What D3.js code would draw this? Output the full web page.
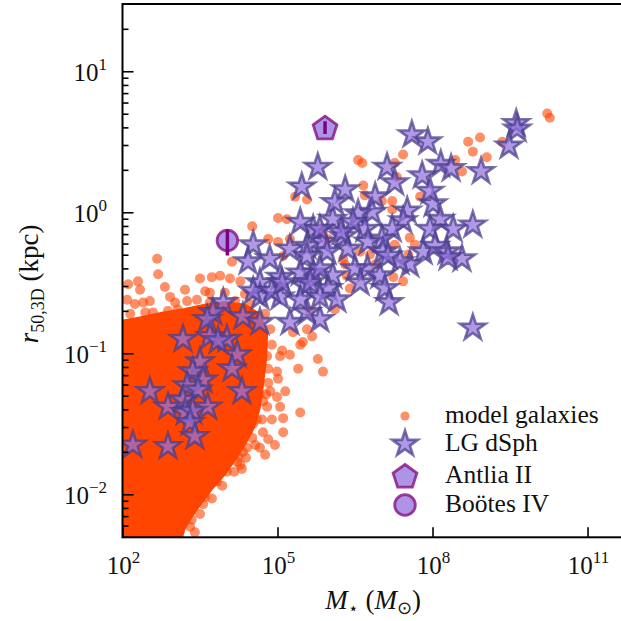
<!DOCTYPE html>
<html><head><meta charset="utf-8">
<script src="https://cdn.jsdelivr.net/npm/d3@7"></script>
<style>body{margin:0;background:#fff} text{font-family:"Liberation Serif","Times New Roman",serif;fill:#111}</style>
</head><body><svg id="c" width="621" height="621"></svg>
<script>
// [log10 M*, log10 r50] for individual model galaxies outside the dense core
const modelGalaxies = [
[10.22,0.70],[10.27,0.67],[8.69,0.50],[8.92,0.53],[8.78,0.43],[9.05,0.39],[9.35,0.50],[7.43,0.41],[7.27,0.35],
[8.44,0.37],[8.57,0.29],[7.76,0.11],[7.22,0.08],[7.22,0.02],[7.56,-0.18],[7.53,-0.30],[7.24,-0.46],[7.43,-0.49],
[6.56,0.37],[6.64,0.35],[6.66,0.19],[6.69,0.12],[7.31,0.25],[7.02,0.08],[6.79,-0.30],[5.57,0.09],[5.34,0.11],
[5.88,-0.14],[6.27,-0.33],[6.34,-0.45],[5.63,-0.70],[5.01,-0.04],[5.18,-0.05],[4.51,-0.10],[4.82,-0.19],[5.01,-0.21],
[4.12,-0.35],[3.73,-0.46],[3.89,-0.45],[3.50,-0.47],[4.08,-0.47],[4.28,-0.49],[5.98,-0.19],[5.11,-0.31],[6.60,-0.28],
[2.67,-0.33],[2.69,-0.44],[2.30,-0.49],[2.92,-0.60],[2.24,-0.65],[2.40,-0.64],[2.53,-0.63],[2.09,-0.62],[2.59,-0.71],
[3.02,-0.64],[3.25,-0.63],[3.44,-0.62],[3.31,-0.71],[2.78,-0.74],[5.30,-0.85],[5.57,-0.83],[3.69,-0.57],
[5.44,-0.94],[5.67,-0.88],[5.24,-1.01],[5.05,-1.02],[5.78,-1.04],[5.88,-1.13],[4.99,-1.13],[4.82,-1.21],[5.15,-1.27],
[4.99,-1.31],[4.80,-1.38],[5.44,-1.42],[4.89,-1.47],[5.11,-1.46],[4.53,-1.50],[4.72,-1.56],[5.11,-1.56],[4.51,-1.60],
[4.82,-1.61],[4.95,-1.65],[4.66,-1.67],[4.76,-1.72],[4.41,-1.67],[4.24,-1.73],[4.28,-1.79],[4.02,-1.84],[4.31,-1.82],
[3.83,-1.91],[3.60,-2.02],[3.56,-2.07],[3.34,-2.18],[3.31,-2.23],[3.11,-2.26],[5.49,-0.92],[5.40,-1.11],[4.86,-1.27],
[4.72,-1.34],[4.60,-1.47],[4.33,-1.70],[4.22,-1.77],[4.80,-1.02],[5.01,-1.18],[5.09,-0.98],[5.05,-1.38],
[4.70,-0.90],[4.62,-1.11],[4.66,-1.29],[4.56,-1.41],[4.43,-1.55],[4.12,-1.70],[3.93,-1.79],[3.73,-1.89],[3.50,-2.00],
[3.36,-2.09],[3.21,-2.18],[3.04,-2.29],[2.15,-0.72],[2.44,-0.71],[2.88,-0.70],[3.07,-0.69],[3.69,-0.64],[4.18,-0.63],
[4.47,-0.65],[4.76,-0.72],[5.24,-0.19],[6.31,-0.37],[6.89,-0.37],[7.66,-0.23],[7.27,-0.23],[6.11,-0.69],[6.40,-0.54],
[2.34,-0.55],[2.82,-0.53],[3.21,-0.55],[2.11,-0.51],[3.60,-0.56],[3.98,-0.57],[4.37,-0.58],[4.86,-0.83],[4.89,-0.94],
[4.82,-1.11],[4.78,-1.29],[4.70,-1.47],[4.57,-1.65],[4.39,-1.74],[4.16,-1.84],[3.93,-1.94],[3.73,-2.03],[3.50,-2.14],
[3.40,-2.27]
];
// outline of the dense, fully overlapping core of model galaxies [log10 M*, log10 r50]
const modelCore = [
[1.90,-0.79],[2.34,-0.76],[2.73,-0.73],[3.21,-0.70],[3.60,-0.67],[3.98,-0.65],[4.37,-0.67],[4.62,-0.73],[4.76,-0.86],
[4.74,-1.04],[4.68,-1.22],[4.62,-1.38],[4.51,-1.52],[4.35,-1.63],[4.16,-1.74],[3.95,-1.85],[3.71,-1.95],[3.50,-2.05],
[3.31,-2.15],[3.15,-2.25],[3.08,-2.36],[1.90,-2.36]
];
// Local Group dwarf spheroidals [log10 M*, log10 r50]
const lgDsph = [
[9.62,0.63],[9.64,0.59],[9.48,0.47],[7.60,0.55],[7.91,0.50],[8.16,0.34],[8.36,0.31],[8.94,0.29],[7.12,0.32],[7.27,0.21],
[7.80,0.26],[8.01,0.06],[7.95,0.15],[8.15,-0.05],[8.40,-0.12],[8.78,-0.09],[7.95,-0.12],[7.51,0.01],[7.43,-0.06],[7.22,-0.12],
[7.02,-0.19],[6.89,0.11],[6.83,0.00],[6.56,-0.01],[6.69,-0.12],[6.46,-0.07],[6.27,-0.17],[6.07,-0.05],[5.69,-0.12],[5.44,-0.07],
[5.57,-0.24],[5.88,-0.21],[6.36,-0.26],[6.75,-0.21],[7.04,-0.28],[7.82,-0.28],[8.05,-0.24],[8.28,-0.28],[8.57,-0.33],[8.30,-0.32],
[7.56,-0.37],[7.37,-0.35],[6.74,-0.40],[6.50,-0.40],[6.98,-0.45],[6.07,-0.45],[5.69,-0.43],[5.53,-0.52],[5.98,-0.54],[7.08,-0.54],
[7.16,-0.64],[6.15,-0.62],[5.82,-0.76],[5.57,-0.71],[8.78,-0.82],[7.14,-0.31],[5.78,0.32],[5.47,0.18],[6.31,0.16],[6.11,0.07],
[5.82,-0.12],[6.23,-0.14],[4.53,-0.23],[4.43,-0.35],[4.85,-0.33],[5.24,-0.26],[5.57,-0.31],[5.96,-0.28],[5.05,-0.46],[5.44,-0.43],
[5.82,-0.40],[4.66,-0.50],[4.66,-0.60],[5.05,-0.60],[5.63,-0.50],[6.60,-0.50],[5.44,-0.62],[5.82,-0.60],[3.95,-0.64],[3.75,-0.71],
[4.33,-0.74],[4.66,-0.78],[5.24,-0.78],[3.64,-0.76],[3.17,-0.90],[4.02,-0.90],[3.69,-0.88],[4.53,-0.56],[4.89,-0.56],[5.09,-0.50],
[3.85,-0.91],[4.22,-1.01],[4.12,-1.11],[3.50,-1.06],[3.36,-1.13],[3.56,-1.19],[3.25,-1.23],[3.46,-1.26],[3.17,-1.33],[3.65,-1.38],
[4.31,-1.27],[2.53,-1.27],[2.88,-1.38],[3.21,-1.42],[3.36,-1.41],[3.31,-1.49],[3.40,-1.59],[2.20,-1.65],[2.88,-1.66]
];
const antliaII = {logM:5.92, logR:0.60, lo:0.045, hi:0.045};
const bootesIV = {logM:4.03, logR:-0.20, lo:0.106, hi:0.078};
const xTickExps = [2,5,8,11];
const yTickExps = [-2,-1,0,1];
const legendLabels = ["model galaxies","LG dSph","Antlia II","Boötes IV"];

const svg = d3.select("#c");
const L=122.5, T=4, B=537.3, pxPerDecX=51.67;
const xMaxExp = 11.75;
const x = d3.scaleLog().domain([1e2, 10**xMaxExp]).range([L, L+pxPerDecX*(xMaxExp-2)]);
const y = d3.scaleLog().domain([10**-2.305, 10**1.477]).range([B, T]);
const R = x.range()[1];

svg.append("clipPath").attr("id","clip").append("rect")
  .attr("x",L).attr("y",T).attr("width",R-L).attr("height",B-T);
const plot = svg.append("g").attr("clip-path","url(#clip)");

const OR = "#ff4500";
// dense core
plot.append("path")
  .attr("d", d3.line().x(d=>x(10**d[0])).y(d=>y(10**d[1])).curve(d3.curveLinearClosed)(modelCore))
  .attr("fill", OR).attr("stroke",OR).attr("stroke-width",6).attr("stroke-linejoin","round");
plot.selectAll("circle.mg").data(modelGalaxies).join("circle").attr("class","mg")
  .attr("cx",d=>x(10**d[0])).attr("cy",d=>y(10**d[1])).attr("r",5)
  .attr("fill",OR).attr("fill-opacity",0.6);

function starPath(Ro){
  const Ri = Ro*0.381966, pts=[];
  for(let i=0;i<10;i++){const a=-Math.PI/2+i*Math.PI/5, r=i%2?Ri:Ro; pts.push([r*Math.cos(a), r*Math.sin(a)]);}
  return "M"+pts.map(p=>p[0].toFixed(2)+","+p[1].toFixed(2)).join("L")+"Z";
}
function pentPath(Ro){
  const pts=[];
  for(let i=0;i<5;i++){const a=-Math.PI/2+i*2*Math.PI/5; pts.push([Ro*Math.cos(a), Ro*Math.sin(a)]);}
  return "M"+pts.map(p=>p[0].toFixed(2)+","+p[1].toFixed(2)).join("L")+"Z";
}
const STAR = starPath(13.5);
function styleStar(s){ s.attr("fill","#9370db").attr("fill-opacity",0.72)
  .attr("stroke","#483d8b").attr("stroke-opacity",0.72).attr("stroke-width",2.6).attr("stroke-linejoin","miter"); }
plot.selectAll("path.lg").data(lgDsph).join("path").attr("class","lg")
  .attr("d",STAR).attr("transform",d=>`translate(${x(10**d[0])},${y(10**d[1])})`).call(styleStar);

const PUR="#8b1a8b";
function styleSpecial(s){ s.attr("fill","#9370db").attr("fill-opacity",0.75).attr("stroke",PUR).attr("stroke-opacity",0.85).attr("stroke-width",2.8); }
// Antlia II
{
  const cx=x(10**antliaII.logM), cy=y(10**antliaII.logR);
  plot.append("path").attr("d",pentPath(12.5)).attr("transform",`translate(${cx},${cy+1})`).call(styleSpecial);
  plot.append("line").attr("x1",cx).attr("x2",cx)
    .attr("y1",y(10**(antliaII.logR+antliaII.hi))).attr("y2",y(10**(antliaII.logR-antliaII.lo)))
    .attr("stroke","#800080").attr("stroke-width",3.5);
}
// Bootes IV
{
  const cx=x(10**bootesIV.logM), cy=y(10**bootesIV.logR);
  plot.append("circle").attr("cx",cx).attr("cy",cy).attr("r",10.3).call(styleSpecial);
  plot.append("line").attr("x1",cx).attr("x2",cx)
    .attr("y1",y(10**(bootesIV.logR+bootesIV.hi))).attr("y2",y(10**(bootesIV.logR-bootesIV.lo)))
    .attr("stroke","#800080").attr("stroke-width",3.5);
}

// axes
const yMinor=[]; for(let e=-3;e<=1;e++) for(let m=2;m<=9;m++){const v=m*10**e; if(v>=y.domain()[0]&&v<=y.domain()[1]) yMinor.push(v);}
const gy=svg.append("g").attr("transform",`translate(${L},0)`);
gy.call(d3.axisLeft(y).tickValues(yMinor).tickSize(-6).tickFormat(""));
const gy2=svg.append("g").attr("transform",`translate(${L},0)`);
gy2.call(d3.axisLeft(y).tickValues(yTickExps.map(e=>10**e)).tickSize(-11).tickFormat(""));
const gx=svg.append("g").attr("transform",`translate(0,${B})`);
gx.call(d3.axisBottom(x).tickValues(xTickExps.map(e=>10**e)).tickSize(-10).tickFormat(""));
svg.selectAll(".domain").remove();
svg.selectAll(".tick line").attr("stroke","#000").attr("stroke-width",1.6);

// spines
svg.append("rect").attr("x",L).attr("y",T).attr("width",R-L).attr("height",B-T)
  .attr("fill","none").attr("stroke","#000").attr("stroke-width",2);

// tick labels
function powLabel(g, e, px, py, anchor){
  const t=g.append("text").attr("x",px).attr("y",py).attr("text-anchor",anchor).attr("font-size",25);
  t.append("tspan").text("10");
  t.append("tspan").attr("dy",-11).attr("font-size",17).text(e<0?"\u2212"+(-e):String(e));
}
xTickExps.forEach(e=>powLabel(svg,e,x(10**e)+1,574,"middle"));
yTickExps.forEach(e=>powLabel(svg,e,107,y(10**e)+10,"end"));

// axis titles
{
  const t=svg.append("text").attr("x",373).attr("y",609).attr("text-anchor","middle").attr("font-size",27);
  t.append("tspan").attr("font-style","italic").text("M");
  t.append("tspan").attr("dy",5).attr("font-size",17).text("\u22C6");
  t.append("tspan").attr("dy",-5).text(" (");
  t.append("tspan").attr("font-style","italic").text("M");
  t.append("tspan").attr("dy",5).attr("font-size",18).text("\u2299");
  t.append("tspan").attr("dy",-5).text(")");
}
{
  const t=svg.append("text").attr("transform","translate(38,284) rotate(-90)").attr("text-anchor","middle").attr("font-size",27);
  t.append("tspan").attr("font-style","italic").text("r");
  t.append("tspan").attr("dy",6).attr("font-size",18).text("50,3D");
  t.append("tspan").attr("dy",-6).text(" (kpc)");
}

// legend
{
  const lg=svg.append("g");
  const rows=[416,444,476,505];
  lg.append("circle").attr("cx",405).attr("cy",rows[0]).attr("r",4.6).attr("fill",OR).attr("fill-opacity",0.6);
  lg.append("path").attr("d",STAR).attr("transform",`translate(405,${rows[1]})`).call(styleStar);
  lg.append("path").attr("d",pentPath(12.5)).attr("transform",`translate(405,${rows[2]+1})`).call(styleSpecial);
  lg.append("circle").attr("cx",405).attr("cy",rows[3]).attr("r",10.3).call(styleSpecial);
  legendLabels.forEach((s,i)=>lg.append("text").attr("x",445).attr("y",rows[i]+7).attr("font-size",25.5).text(s));
}
</script></body></html>
